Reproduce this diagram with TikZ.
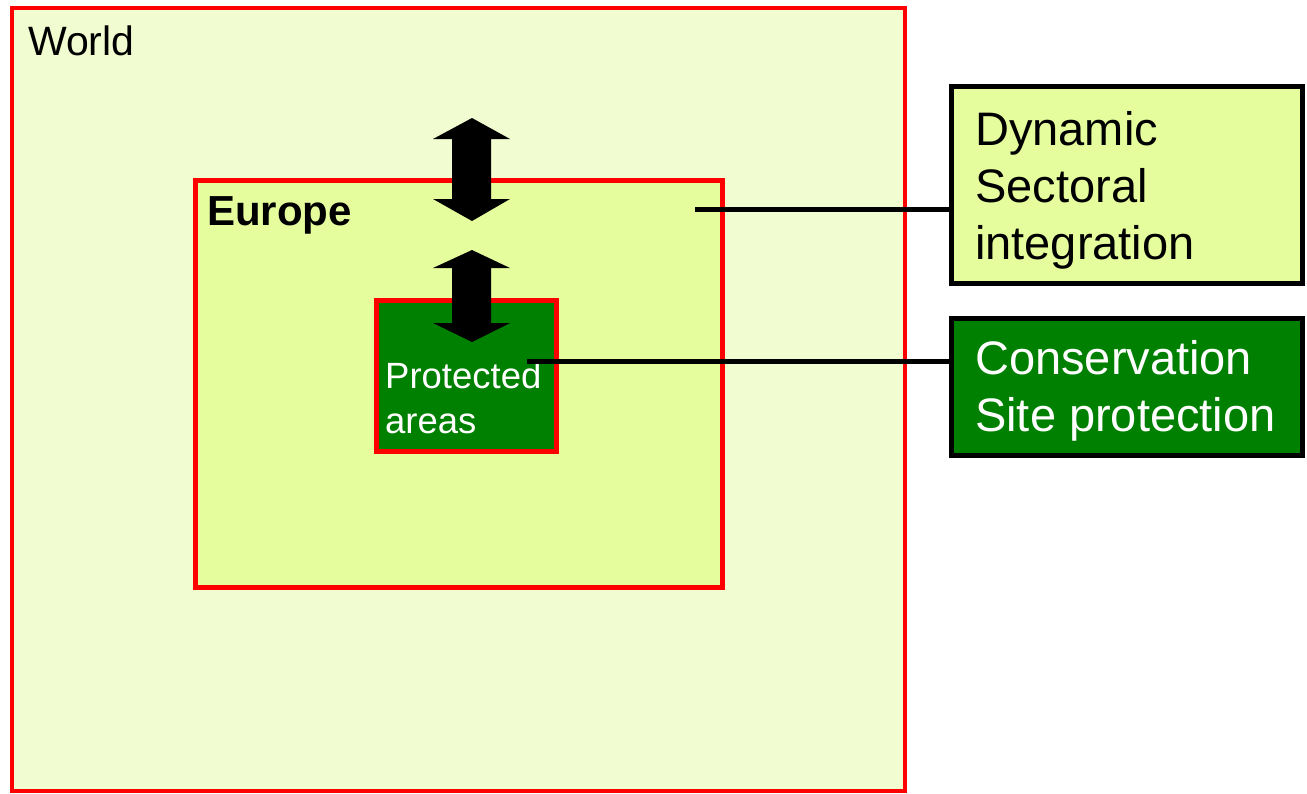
\documentclass[tikz,border=0pt]{standalone}
\usepackage{fontspec}
\setmainfont{Liberation Sans}
\definecolor{worldfill}{RGB}{241,253,208}
\definecolor{eurofill}{RGB}{230,253,158}
\definecolor{darkgreen}{RGB}{0,128,0}
\definecolor{redline}{RGB}{255,0,0}
\tikzset{
  regionbox/.style={draw=redline, line width=4pt},
  infobox/.style={draw=black, line width=5pt},
  linkline/.style={draw=black, line width=5pt},
  blockarrow/.style={fill=black, draw=none},
}
\begin{document}
\begin{tikzpicture}[x=1pt,y=-1pt]
\useasboundingbox (0,0) rectangle (1307,793);
% regions
\path[regionbox, fill=worldfill] (12,8) rectangle (905,791);
\path[regionbox, fill=eurofill, line width=5pt] (195,180) rectangle (722,587);
\path[regionbox, fill=darkgreen, line width=5pt] (376,300) rectangle (556,451);
% texts
\node[anchor=base west, inner sep=0pt, font=\fontsize{41}{49}\selectfont] (world) at (28,55) {World};
\node[anchor=base west, inner sep=0pt, font=\fontsize{42}{50}\selectfont\bfseries] (europe) at (207,225) {Europe};
\node[anchor=base west, inner sep=0pt, align=left, text=white, font=\fontsize{36.5}{45}\selectfont] (protected) at (385,433) {Protected\\areas};
% info boxes
\path[infobox, fill=eurofill] (951,86) rectangle (1302,283);
\coordinate (dynW) at (951,209);
\node[anchor=base west, inner sep=0pt, align=left, font=\fontsize{47}{57}\selectfont] (dynamic) at (975,259) {Dynamic\\Sectoral\\integration};
\path[infobox, fill=darkgreen] (951,318) rectangle (1302,455);
\coordinate (consW) at (951,361);
\node[anchor=base west, inner sep=0pt, align=left, text=white, font=\fontsize{47}{57}\selectfont] (conservation) at (975,431) {Conservation\\Site protection};
% connectors
\coordinate (euroPt) at (695,209);
\coordinate (protPt) at (527,361);
\draw[linkline] (euroPt) -- (dynW);
\draw[linkline] (protPt) -- (consW);
% block double arrows
\path[blockarrow] (472,118) -- (510,139) -- (491,139) -- (491,199) -- (510,199) -- (472,221)
  -- (433,199) -- (452,199) -- (452,139) -- (433,139) -- cycle;
\path[blockarrow] (472,250) -- (510,268) -- (491,268) -- (491,323) -- (510,323) -- (472,342)
  -- (433,323) -- (452,323) -- (452,268) -- (433,268) -- cycle;
\end{tikzpicture}
\end{document}
